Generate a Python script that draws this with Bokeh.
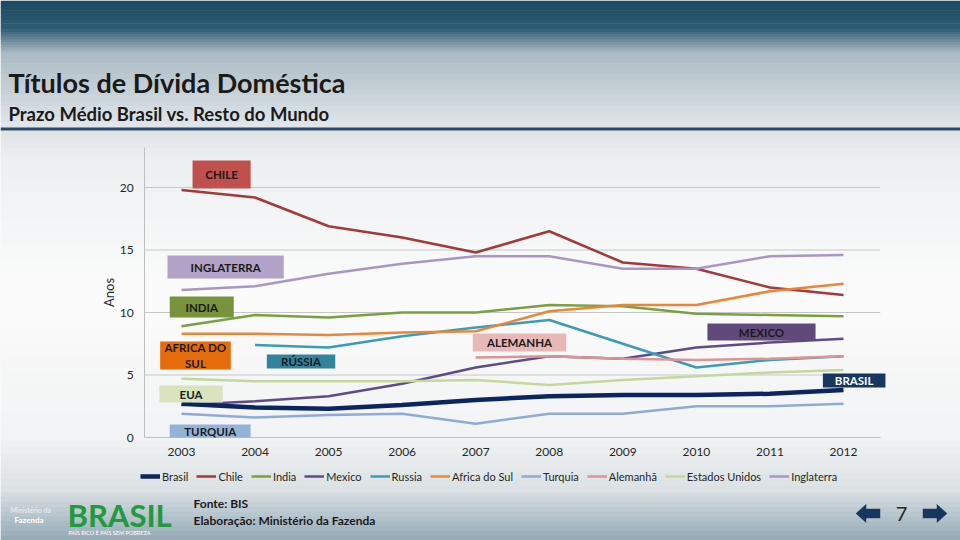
from bokeh.plotting import figure
from bokeh.models import (BoxAnnotation, Label, Legend, LegendItem, FixedTicker,
                          Range1d, PolyAnnotation, LinearAxis)
from bokeh.embed import file_html
from bokeh.resources import INLINE

# ---------------- data ----------------
years = [2003, 2004, 2005, 2006, 2007, 2008, 2009, 2010, 2011, 2012]
nan = float("nan")
brasil = [2.7, 2.4, 2.3, 2.6, 3.0, 3.3, 3.4, 3.4, 3.5, 3.8]
chile = [19.8, 19.2, 16.9, 16.0, 14.8, 16.5, 14.0, 13.5, 12.0, 11.4]
india = [8.9, 9.8, 9.6, 10.0, 10.0, 10.6, 10.5, 9.9, 9.8, 9.7]
mexico = [2.6, 2.9, 3.3, 4.3, 5.6, 6.5, 6.3, 7.2, 7.6, 7.9]
russia = [nan, 7.4, 7.2, 8.1, 8.8, 9.4, 7.5, 5.6, 6.2, 6.5]
africa_sul = [8.3, 8.3, 8.2, 8.4, 8.5, 10.1, 10.6, 10.6, 11.7, 12.3]
turquia = [1.9, 1.6, 1.8, 1.9, 1.1, 1.9, 1.9, 2.5, 2.5, 2.7]
alemanha = [nan, nan, nan, nan, 6.4, 6.5, 6.3, 6.2, 6.3, 6.5]
estados_unidos = [4.7, 4.5, 4.5, 4.5, 4.6, 4.2, 4.6, 4.9, 5.2, 5.4]
inglaterra = [11.8, 12.1, 13.1, 13.9, 14.5, 14.5, 13.5, 13.5, 14.5, 14.6]

series_names = ["Brasil", "Chile", "India", "Mexico", "Russia", "Africa do Sul",
                "Turquia", "Alemanhã", "Estados Unidos", "Inglaterra"]
series_values = [brasil, chile, india, mexico, russia, africa_sul,
                 turquia, alemanha, estados_unidos, inglaterra]
series_colors = ["#0c2461", "#a3393a", "#7aa043", "#5f4a8b", "#3a9cb6", "#e8873a",
                 "#8faad6", "#da9696", "#c4d89c", "#a897c6"]
series_widths = [4.5, 2.5, 2.5, 2.5, 2.5, 2.5, 2.5, 2.5, 2.5, 2.5]

y_ticks = [0, 5, 10, 15, 20]
y_max = 23.2

# tags drawn on the chart: text, x-left, x-right, y-bottom, y-top (data units), fill, text colour
tags = [
    ("CHILE", 2003.15, 2003.94, 19.92, 22.16, "#c0504d", "#1a1a1a"),
    ("INGLATERRA", 2002.81, 2004.39, 12.72, 14.56, "#b3a2c7", "#1a1a1a"),
    ("INDIA", 2002.84, 2003.71, 9.60, 11.28, "#77933c", "#1a1a1a"),
    ("AFRICA DO\nSUL", 2002.71, 2003.67, 5.44, 7.68, "#e46c0a", "#1a1a1a"),
    ("RÚSSIA", 2004.16, 2005.09, 5.52, 6.64, "#31849b", "#1a1a1a"),
    ("EUA", 2002.70, 2003.56, 2.80, 4.16, "#d7e4bd", "#1a1a1a"),
    ("TURQUIA", 2002.84, 2003.94, 0.0, 1.04, "#95b3d7", "#1a1a1a"),
    ("ALEMANHA", 2006.96, 2008.23, 6.88, 8.32, "#e6b9b8", "#1a1a1a"),
    ("MEXICO", 2010.15, 2011.62, 7.76, 9.12, "#604a7b", "#1a1a1a"),
    ("BRASIL", 2011.72, 2012.57, 4.00, 5.12, "#17375e", "#ffffff"),
]

FONT = "Lato"
W, H = 960, 540
# page mapping: year 2003 -> x 181 px, 73.556 px per year; value 0 -> y 437 px, 12.5 px per unit
PX_YEAR = 73.556
PX_UNIT = 12.5
x_range = Range1d(2003 - 181 / PX_YEAR, 2003 + (W - 181) / PX_YEAR)
y_range = Range1d((437 - H) / PX_UNIT, 437 / PX_UNIT)

p = figure(width=W, height=H, output_backend="svg", toolbar_location=None,
           x_range=x_range, y_range=y_range, x_axis_type=None, y_axis_type=None,
           min_border=0)
p.outline_line_color = None
p.background_fill_color = "#f4f6f7"
p.border_fill_color = "#f4f6f7"
p.grid.visible = False


def hex2rgb(h):
    h = h.lstrip("#")
    return tuple(int(h[i:i + 2], 16) for i in (0, 2, 4))


def rgb2hex(c):
    return "#%02x%02x%02x" % tuple(int(round(v)) for v in c)


def band(x0, x1, y0, y1, c0, c1, steps=1):
    """vertical gradient band in page pixel coordinates"""
    a, b = hex2rgb(c0), hex2rgb(c1)
    h = (y1 - y0) / steps
    for i in range(steps):
        t = i / max(steps - 1, 1)
        col = rgb2hex([a[k] + (b[k] - a[k]) * t for k in range(3)])
        ya = y0 + i * h
        yb = ya + h + 0.6
        p.add_layout(BoxAnnotation(left=x0, right=x1, top=H - ya, bottom=H - yb,
                                   left_units="screen", right_units="screen",
                                   top_units="screen", bottom_units="screen",
                                   fill_color=col, fill_alpha=1, line_color=None,
                                   level="image", propagate_hover=False))


# slide background
band(0, W, 0, 26, "#1b4a61", "#2c5a70", 8)
band(0, W, 26, 52, "#2c5a70", "#a2b4be", 10)
band(0, W, 52, 127, "#acbcc4", "#dfe5e8", 14)
band(0, W, 127, 130, "#2b4866", "#2b4866", 1)
band(0, W, 130, 165, "#dfe4e7", "#eef1f2", 6)
band(0, W, 165, 300, "#eef1f2", "#fbfbfb", 10)
band(0, W, 300, 440, "#fbfbfb", "#f1f3f4", 10)
band(0, W, 440, 492, "#eef1f2", "#dbe1e4", 8)
band(0, W, 492, H, "#d3dbdf", "#97abb7", 10)

# horizontal gridlines at the y ticks, spanning the plot width
p.segment(x0=[2002.5] * (len(y_ticks) - 1), x1=[2012.5] * (len(y_ticks) - 1),
          y0=y_ticks[1:], y1=y_ticks[1:], line_color="#c6c6c6", line_width=1)

# axes at fixed locations
xaxis = LinearAxis(fixed_location=0, bounds=(2002.5, 2012.5),
                   ticker=FixedTicker(ticks=years))
yaxis = LinearAxis(fixed_location=2002.5, bounds=(0, y_max),
                   ticker=FixedTicker(ticks=y_ticks), axis_label="Anos")
for ax in (xaxis, yaxis):
    ax.axis_line_color = "#bfbfbf"
    ax.axis_line_width = 1
    ax.major_tick_line_color = None
    ax.minor_tick_line_color = None
    ax.major_tick_out = 0
    ax.major_tick_in = 0
    ax.major_label_text_font = FONT
    ax.major_label_text_font_size = "12px"
    ax.major_label_text_color = "#262626"
xaxis.major_label_standoff = 10
yaxis.major_label_standoff = 11
yaxis.axis_label_text_font = FONT
yaxis.axis_label_text_font_size = "13px"
yaxis.axis_label_text_font_style = "normal"
yaxis.axis_label_text_color = "#262626"
yaxis.axis_label_standoff = 0
p.add_layout(xaxis, "below")
p.add_layout(yaxis, "left")

# lines (draw Brasil last so it sits on top)
renderers = {}
order = list(range(1, len(series_names))) + [0]
for i in order:
    renderers[i] = p.line(years, series_values[i], line_color=series_colors[i],
                          line_width=series_widths[i])

items = [LegendItem(label=series_names[i], renderers=[renderers[i]])
         for i in range(len(series_names))]
legend = Legend(items=items, orientation="horizontal", location=(140, H - 483),
                background_fill_alpha=0, border_line_color=None,
                label_text_font=FONT, label_text_font_size="11px",
                label_text_color="#262626", glyph_width=20, glyph_height=12,
                label_standoff=2, spacing=8, padding=0, margin=0,
                label_height=14)
p.add_layout(legend)

# tags
for text, x0, x1, y0, y1, fill, tcol in tags:
    p.add_layout(BoxAnnotation(left=x0, right=x1, bottom=y0, top=y1,
                               fill_color=fill, fill_alpha=1, line_color=None,
                               propagate_hover=False))
    p.add_layout(Label(x=(x0 + x1) / 2, y=(y0 + y1) / 2, text=text,
                       text_align="center", text_baseline="middle",
                       text_font=FONT, text_font_style="bold",
                       text_font_size="11.5px", text_color=tcol,
                       text_line_height=1.25))


def page_label(px, py, text, size, color, style="normal", align="left"):
    p.add_layout(Label(x=px, y=H - py, x_units="screen", y_units="screen",
                       text=text, text_font=FONT, text_font_size=size,
                       text_font_style=style, text_color=color,
                       text_align=align, text_baseline="middle"))


# titles (py = vertical centre of the text)
page_label(8, 82, "Títulos de Dívida Doméstica", "27px", "#1a1a1a", "bold")
page_label(8, 113, "Prazo Médio Brasil vs. Resto do Mundo", "18.5px", "#1a1a1a", "bold")

# footer
page_label(193, 503, "Fonte: BIS", "12px", "#1a1a1a", "bold")
page_label(193, 520, "Elaboração: Ministério da Fazenda", "12px", "#1a1a1a", "bold")
page_label(10, 509, "Ministério da", "7px", "#eef2f5")
page_label(14, 519, "Fazenda", "8px", "#ffffff", "bold")
page_label(67, 514, "BRASIL", "31px", "#1f9a3c", "bold")
page_label(68, 532, "PAÍS RICO É PAÍS SEM POBREZA", "5.5px", "#ffffff")
page_label(901, 513, "7", "20px", "#262626", "normal", "center")


def arrow(pts, color="#17375e"):
    p.add_layout(PolyAnnotation(xs=[x for x, y in pts], ys=[H - y for x, y in pts],
                                xs_units="screen", ys_units="screen",
                                fill_color=color, fill_alpha=1,
                                line_color="#ffffff", line_width=1))


arrow([(855, 513), (866, 503), (866, 508), (880, 508), (880, 518), (866, 518), (866, 523)])
arrow([(947, 513), (936, 503), (936, 508), (922, 508), (922, 518), (936, 518), (936, 523)])

open("out.html", "w").write(file_html(p, INLINE))
